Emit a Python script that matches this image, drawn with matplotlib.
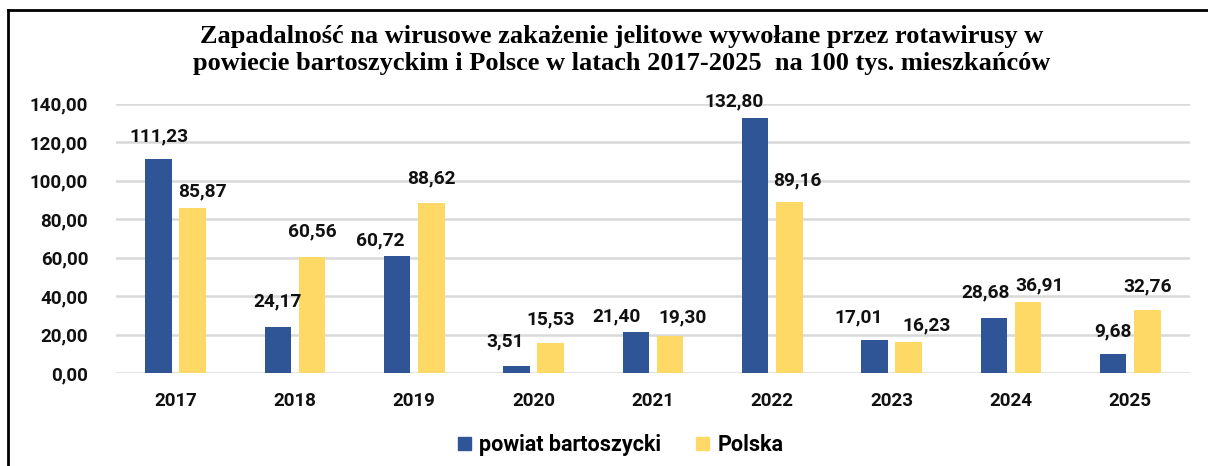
import matplotlib.pyplot as plt
import numpy as np
from matplotlib.patches import Patch
from matplotlib.lines import Line2D

years = ["2017", "2018", "2019", "2020", "2021", "2022", "2023", "2024", "2025"]
powiat = [111.23, 24.17, 60.72, 3.51, 21.40, 132.80, 17.01, 28.68, 9.68]
polska = [85.87, 60.56, 88.62, 15.53, 19.30, 89.16, 16.23, 36.91, 32.76]

BLUE = "#2F5597"
YELLOW = "#FFD966"
LABEL_FONT = "Roboto"

# label nudges (dx, gap above bar) in pixels, as placed in the original
powiat_nudge = [(0, 17), (0, 19), (-17, 10), (-11, 19), (-19, 9), (-21, 10), (-16, 17), (-8, 19), (0, 17)]
polska_nudge = [(10, 10), (0, 19), (0, 18), (0, 17), (13, 12), (8, 15), (18, 10), (12, 10), (0, 17)]

def pl(v):
	return ("%.2f" % v).replace(".", ",")

fig = plt.figure(figsize=(12.08, 4.66), dpi=100)
ax = fig.add_axes([0.096, 0.1996, 0.889, 0.5774])

x = np.arange(len(years))
w = 0.222
off = 0.143
b1 = ax.bar(x - off, powiat, w, color=BLUE, zorder=3)
b2 = ax.bar(x + off, polska, w, color=YELLOW, zorder=3)

for bars, vals, nudge in ((b1, powiat, powiat_nudge), (b2, polska, polska_nudge)):
	for r, v, (dx, dy) in zip(bars, vals, nudge):
		ax.annotate(pl(v), (r.get_x() + r.get_width() / 2, r.get_height()),
			xytext=(dx * 0.72, dy * 0.72 - 2), textcoords="offset points", ha="center", va="bottom",
			fontsize=13.8, fontweight="bold", family=LABEL_FONT, color="#111111")

ax.set_xlim(-0.5, len(years) - 0.5)
ax.set_ylim(0, 140)
ax.set_yticks(np.arange(0, 141, 20))
ax.set_yticklabels([pl(t) for t in np.arange(0, 141, 20)])
ax.set_xticks(x)
ax.set_xticklabels(years)
for lab in ax.get_xticklabels() + ax.get_yticklabels():
	lab.set_fontfamily(LABEL_FONT)
	lab.set_fontweight("bold")
	lab.set_fontsize(13.5)
	lab.set_color("#111111")
ax.tick_params(length=0)
ax.tick_params(axis="y", pad=20)
ax.tick_params(axis="x", pad=14)
ax.yaxis.grid(True, color="#d9d9d9", linewidth=1.8, zorder=0)
for s in ax.spines.values():
	s.set_visible(False)

fig.text(0.515, 0.893, "Zapadalność na wirusowe zakażenie jelitowe wywołane przez rotawirusy w\n"
	"powiecie bartoszyckim i Polsce w latach 2017-2025  na 100 tys. mieszkańców",
	ha="center", va="center", fontsize=19, fontweight="bold",
	family="Liberation Serif", linespacing=1.2)

handles = [Patch(color=BLUE, label="powiat bartoszycki"), Patch(color=YELLOW, label="Polska")]
fig.legend(handles=handles, loc="center", bbox_to_anchor=(0.5137, 0.045), ncol=2, frameon=False,
	prop={"family": LABEL_FONT, "weight": "bold", "size": 15.5},
	handlelength=0.6, handleheight=0.6, handletextpad=0.4, columnspacing=1.6)

# border of the chart box
fig.add_artist(Line2D([8 / 1208, 1.0], [1 - 10 / 466, 1 - 10 / 466], color="black", lw=2, transform=fig.transFigure))
fig.add_artist(Line2D([8 / 1208, 8 / 1208], [1 - 10 / 466, 0], color="black", lw=2, transform=fig.transFigure))

fig.savefig("out.png", dpi=100)
